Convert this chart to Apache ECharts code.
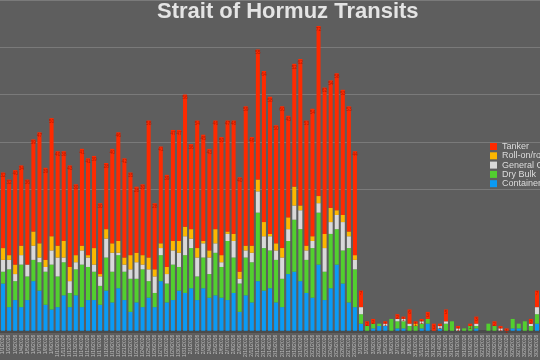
<!DOCTYPE html>
<html><head><meta charset="utf-8">
<script src="https://cdn.jsdelivr.net/npm/echarts@6/dist/echarts.min.js"></script>
<style>html,body{margin:0;padding:0;background:#5e5e5e;}#c{width:540px;height:360px;}</style>
</head><body><div id="c"></div>
<script>
const categories = ["1/1/2026","1/2/2026","1/3/2026","1/4/2026","1/5/2026","1/6/2026","1/7/2026","1/8/2026","1/9/2026","1/10/2026","1/11/2026","1/12/2026","1/13/2026","1/14/2026","1/15/2026","1/16/2026","1/17/2026","1/18/2026","1/19/2026","1/20/2026","1/21/2026","1/22/2026","1/23/2026","1/24/2026","1/25/2026","1/26/2026","1/27/2026","1/28/2026","1/29/2026","1/30/2026","1/31/2026","2/1/2026","2/2/2026","2/3/2026","2/4/2026","2/5/2026","2/6/2026","2/7/2026","2/8/2026","2/9/2026","2/10/2026","2/11/2026","2/12/2026","2/13/2026","2/14/2026","2/15/2026","2/16/2026","2/17/2026","2/18/2026","2/19/2026","2/20/2026","2/21/2026","2/22/2026","2/23/2026","2/24/2026","2/25/2026","2/26/2026","2/27/2026","2/28/2026","3/1/2026","3/2/2026","3/3/2026","3/4/2026","3/5/2026","3/6/2026","3/7/2026","3/8/2026","3/9/2026","3/10/2026","3/11/2026","3/12/2026","3/13/2026","3/14/2026","3/15/2026","3/16/2026","3/17/2026","3/18/2026","3/19/2026","3/20/2026","3/21/2026","3/22/2026","3/23/2026","3/24/2026","3/25/2026","3/26/2026","3/27/2026","3/28/2026","3/29/2026","3/30/2026"];
const container = [20,10,13,10,13,21,17,11,9,10,15,10,15,10,13,13,11,17,12,18,13,8,12,10,14,10,21,12,13,17,
16,18,13,18,14,15,14,13,16,8,15,12,21,17,18,12,10,24,25,21,16,14,28,13,18,28,20,12,10,
3,0,1,2,2,0,1,1,0,0,1,3,0,1,0,0,0,0,0,1,0,0,0,0,0,1,1,0,0,3];
const dryBulk = [5,16,8,18,10,9,12,14,19,13,14,6,11,18,14,12,8,14,13,14,12,14,10,16,7,6,11,8,15,10,
16,17,10,13,10,18,13,25,15,12,16,17,29,18,16,18,12,14,22,22,14,21,22,12,23,15,14,23,16,
4,2,2,1,0,5,3,3,2,2,2,2,0,0,3,4,0,1,2,1,0,3,2,0,0,4,2,4,2,4];
const generalCargo = [5,4,3,4,5,6,2,2,6,8,2,5,3,6,4,3,4,8,8,1,3,4,7,2,5,7,3,4,6,6,
8,4,8,6,7,4,2,3,7,2,3,4,9,5,6,4,9,5,6,8,4,3,4,10,5,6,12,5,4,
3,0,0,0,1,0,1,1,1,0,1,0,0,1,1,0,1,0,0,1,0,0,0,1,0,0,0,0,1,3];
const rollOn = [5,2,4,4,0,6,6,3,6,5,7,6,3,2,1,7,1,4,4,5,3,6,4,4,5,3,2,3,4,5,
4,4,4,1,3,6,3,1,3,3,2,3,5,6,1,3,4,5,8,2,2,2,3,6,6,2,3,2,2,
0,0,0,0,0,0,0,0,0,1,0,0,0,0,0,0,0,0,0,0,0,0,0,0,0,0,0,0,0,0];
const tanker = [32,32,40,34,36,39,47,39,50,40,38,43,30,41,41,39,30,28,40,46,42,35,28,30,58,28,41,39,47,47,
56,36,54,45,43,46,50,47,48,40,59,46,55,64,58,50,60,43,52,62,53,54,72,62,54,58,53,53,44,
7,2,2,0,1,0,2,1,6,1,1,3,3,1,5,0,1,0,1,3,0,0,2,1,1,0,0,0,2,7];
const seriesNames = ["Container","Dry Bulk","General Cargo","Roll-on/roll-off","Tanker"];
const legendOrder = ["Tanker","Roll-on/roll-off","General Cargo","Dry Bulk","Container"];
const colors = ["#0a9bf5","#52cf2f","#d9d9d9","#fdb700","#ff2a00"];

const chart = echarts.init(document.getElementById('c'), null, {renderer:'canvas'});
const dataSets = [container, dryBulk, generalCargo, rollOn, tanker];
const series = seriesNames.map((n,i)=>({
  name:n, type:'bar', stack:'all', data:dataSets[i], barWidth:'66%',
  itemStyle:{color:colors[i]},
  label: i===4 ? {show:true, position:'insideTop', distance:1, fontSize:5, color:'#b31a00',
    fontFamily:'Liberation Sans', formatter:p=> p.value>0 ? String(p.value) : ''} : {show:false}
}));
chart.setOption({
  backgroundColor:'#5e5e5e',
  animation:false,
  title:{text:'Strait of Hormuz Transits', left:152, top:-4,
    textStyle:{color:'#e4e4e4', fontSize:22, fontWeight:'bold', fontFamily:'Liberation Sans'}},
  legend:{data:legendOrder, orient:'vertical', left:485, top:137, itemWidth:7, itemHeight:7, itemGap:0.3,
    icon:'rect', textStyle:{color:'#dcdcdc', fontSize:9, lineHeight:9, fontFamily:'Liberation Sans'}},
  grid:{left:-3.2, right:-4.2, top:-3, bottom:27},
  xAxis:{type:'category', data:categories, offset:1,
    axisLine:{lineStyle:{color:'#4b4b4b', width:3}}, axisTick:{show:false},
    axisLabel:{interval:0, rotate:90, fontSize:5, color:'#bdbdbd', margin:3, fontFamily:'Liberation Sans'}},
  yAxis:{type:'value', min:0, max:140, interval:20,
    axisLabel:{show:false}, axisLine:{show:false}, axisTick:{show:false},
    splitLine:{lineStyle:{color:['rgba(0,0,0,0)','rgba(0,0,0,0)','rgba(0,0,0,0)','#7a7a7a','#7a7a7a','#7a7a7a','#7a7a7a','#7a7a7a'], width:1}}},
  series: series
});
</script></body></html>
